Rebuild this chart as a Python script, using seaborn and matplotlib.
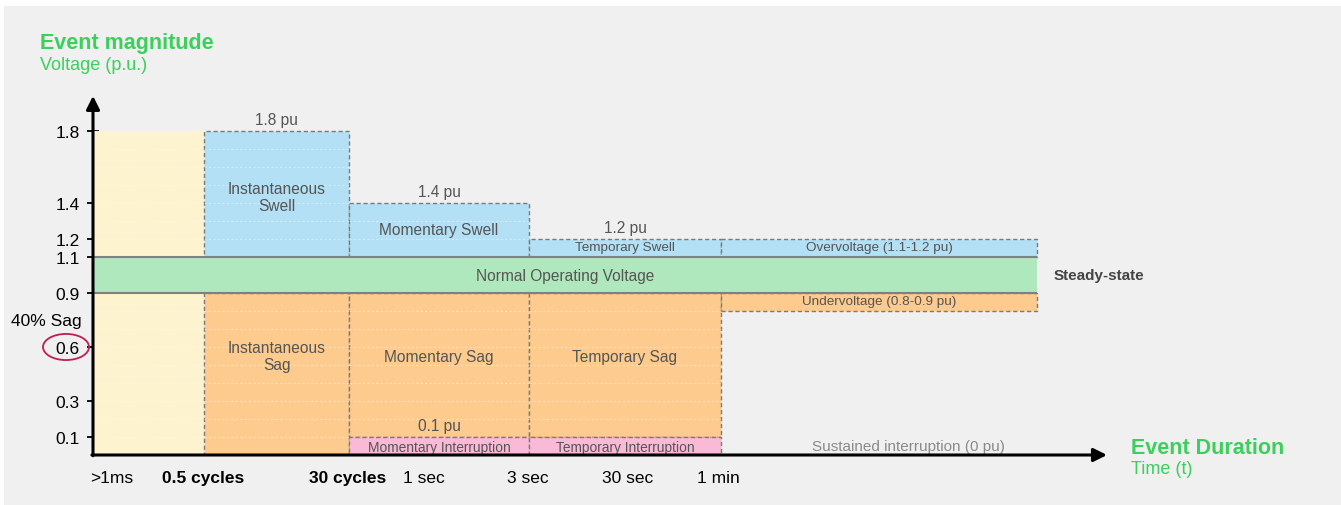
import matplotlib
matplotlib.use("Agg")
import matplotlib.pyplot as plt
from matplotlib.patches import Ellipse, Rectangle
from matplotlib import font_manager
import seaborn as sns

# ---------------- data ----------------
col_edges = [0.0, 1.11, 2.56, 4.36, 6.28, 9.44]          # duration boundaries (axis units)
swell_tops = [1.8, 1.4, 1.2, 1.2]                          # swell upper limits per column 1..4
swell_names = ["Instantaneous\nSwell", "Momentary Swell", "Temporary Swell", "Overvoltage (1.1-1.2 pu)"]
swell_top_labels = ["1.8 pu", "1.4 pu", "1.2 pu", ""]
sag_bottoms = [0.0, 0.1, 0.1, 0.8]                         # sag lower limits per column 1..4
sag_names = ["Instantaneous\nSag", "Momentary Sag", "Temporary Sag", "Undervoltage (0.8-0.9 pu)"]
interrupt_tops = [0.1, 0.1]                                # columns 2..3
interrupt_names = ["Momentary Interruption", "Temporary Interruption"]
normal_band = [0.9, 1.1]
yellow_top = 1.8

x_tick_pos = [0.19, 1.10, 2.55, 3.31, 4.35, 5.35, 6.25]
x_tick_labels = [">1ms", "0.5 cycles", "30 cycles", "1 sec", "3 sec", "30 sec", "1 min"]
x_tick_bold = [False, True, True, False, False, False, False]
y_ticks = [0.1, 0.3, 0.6, 0.9, 1.1, 1.2, 1.4, 1.8]
y_tick_labels = ["0.1", "0.3", "0.6", "0.9", "1.1", "1.2", "1.4", "1.8"]

# ---------------- style ----------------
sns.set_theme(style="white")
plt.rcParams['font.family'] = ['Liberation Sans', 'DejaVu Sans']
names = {f.name for f in font_manager.fontManager.ttflist}
has_narrow = 'Liberation Sans Narrow' in names
narrow = 'Liberation Sans Narrow' if has_narrow else 'Liberation Sans'
fs_interrupt = 11.6 if has_narrow else 9.9
fs_sustained = 12.8 if has_narrow else 11.0

YELLOW = "#fdf3cf"
BLUE = "#b3e0f5"
GREEN = "#b0e8bd"
ORANGE = "#fdcb8e"
PINK = "#fbb9d8"
BG = "#f0f0f0"
TXT = "#555555"
EDGE = "#7a7a7a"
GTXT = "#3ccf5c"
DASH = (0, (3, 2))

W, H = 1341, 506
fig = plt.figure(figsize=(W / 100, H / 100), dpi=100)
fig.patch.set_facecolor("white")
fig.patches.append(Rectangle((4 / W, 0), 1, (H - 7) / H, transform=fig.transFigure,
                             facecolor=BG, edgecolor="none", zorder=-10))

ax = fig.add_axes([93 / W, (H - 456) / H, 1030 / W, 360 / H])
ax.set_facecolor("none")
ax.set_xlim(0, 10.3)
ax.set_ylim(0, 2.0)
for s in ax.spines.values():
    s.set_visible(False)


def grid_in(x0, x1, y0, y1):
    lv = [k / 10 for k in range(1, 19)]
    ys = [v for v in lv if y0 + 1e-6 < v < y1 - 1e-6]
    if ys:
        ax.hlines(ys, x0, x1, colors="white", linestyles=(0, (2, 2)), linewidth=0.8, alpha=0.4, zorder=2)


def block(x0, x1, y0, y1, color, dashed=True):
    if dashed:
        ax.bar(x0, y1 - y0, width=x1 - x0, bottom=y0, align="edge", color=color,
               edgecolor=EDGE, linewidth=1.0, linestyle=DASH, zorder=1)
    else:
        ax.bar(x0, y1 - y0, width=x1 - x0, bottom=y0, align="edge", color=color,
               linewidth=0, zorder=1)
    grid_in(x0, x1, y0, y1)


# yellow "sub-cycle" column
block(col_edges[0], col_edges[1], 0, yellow_top, YELLOW, dashed=False)

# swells
for i in range(4):
    x0, x1 = col_edges[i + 1], col_edges[i + 2]
    block(x0, x1, normal_band[1], swell_tops[i], BLUE)
    xc = (x0 + x1) / 2
    fs = 11.2 if i < 2 else 9.7
    ax.text(xc, (normal_band[1] + swell_tops[i]) / 2 + (-0.017 if i == 0 else 0.005), swell_names[i],
            ha="center", va="center", fontsize=fs, color=TXT, linespacing=1.15, zorder=5)
    if swell_top_labels[i]:
        ax.text(xc, swell_tops[i] + 0.062, swell_top_labels[i], ha="center", va="center",
                fontsize=11.2, color=TXT, zorder=5)

# sags
sag_label_y = [0.55, 0.545, 0.545, 0.856]
for i in range(4):
    x0, x1 = col_edges[i + 1], col_edges[i + 2]
    block(x0, x1, sag_bottoms[i], normal_band[0], ORANGE)
    xc = (x0 + x1) / 2
    fs = 11.2 if i < 3 else 9.7
    ax.text(xc, sag_label_y[i], sag_names[i], ha="center", va="center", fontsize=fs,
            color=TXT, linespacing=1.15, zorder=5)

# interruptions
for i in range(2):
    x0, x1 = col_edges[i + 2], col_edges[i + 3]
    block(x0, x1, 0, interrupt_tops[i], PINK)
    ax.text((x0 + x1) / 2, 0.046, interrupt_names[i], ha="center", va="center",
            fontsize=fs_interrupt, family=narrow, color=TXT, zorder=5)
ax.text((col_edges[2] + col_edges[3]) / 2, interrupt_tops[0] + 0.062, "0.1 pu", ha="center",
        va="center", fontsize=11.2, color=TXT, zorder=5)

# normal operating band
ax.bar(col_edges[0], normal_band[1] - normal_band[0], width=col_edges[-1] - col_edges[0],
       bottom=normal_band[0], align="edge", color=GREEN, linewidth=0, zorder=3)
ax.hlines(normal_band, col_edges[0], col_edges[-1], colors="#808080", linewidth=1.5, zorder=4)
ax.text((col_edges[0] + col_edges[-1]) / 2, sum(normal_band) / 2, "Normal Operating Voltage",
        ha="center", va="center", fontsize=11.2, color=TXT, zorder=5)
ax.text(10.06, sum(normal_band) / 2, "Steady-state", ha="center", va="center",
        fontsize=11, fontweight="bold", color="#444444", clip_on=False)

ax.text(8.15, 0.052, "Sustained interruption (0 pu)", ha="center", va="center",
        fontsize=fs_sustained, family=narrow, color="#8a8a8a", zorder=5)

# axes arrows
ax.annotate("", xy=(0, 1.995), xytext=(0, -0.004), xycoords="data",
            arrowprops=dict(arrowstyle="-|>", lw=2.2, color="black", mutation_scale=20,
                            shrinkA=0, shrinkB=0), annotation_clip=False, zorder=6)
ax.annotate("", xy=(10.14, 0), xytext=(-0.011, 0), xycoords="data",
            arrowprops=dict(arrowstyle="-|>", lw=2.2, color="black", mutation_scale=20,
                            shrinkA=0, shrinkB=0), annotation_clip=False, zorder=6)

# ticks
ax.set_yticks(y_ticks)
ax.set_yticklabels(y_tick_labels, fontsize=12.5, color="black")
ax.tick_params(axis="y", direction="inout", length=9, width=1.3, color="black", pad=5, left=True)
ax.set_xticks(x_tick_pos)
ax.set_xticklabels(x_tick_labels, fontsize=12.5, color="black")
for lab, b in zip(ax.get_xticklabels(), x_tick_bold):
    if b:
        lab.set_fontweight("bold")
ax.tick_params(axis="x", length=0, pad=10.5)

ax.text(-0.11, 0.745, "40% Sag", ha="right", va="center", fontsize=12.5, color="black", clip_on=False)
ax.add_patch(Ellipse((-0.27, 0.6), 0.46, 0.145, facecolor="none", edgecolor="#c01e4e",
                     linewidth=1.3, clip_on=False, zorder=6))

# axis titles
ax.text(-0.53, 2.294, "Event magnitude", ha="left", va="center", fontsize=15.5,
        fontweight="bold", color=GTXT, clip_on=False)
ax.text(-0.53, 2.168, "Voltage (p.u.)", ha="left", va="center", fontsize=13,
        color=GTXT, clip_on=False)
ax.text(10.38, 0.04, "Event Duration", ha="left", va="center", fontsize=15.5,
        fontweight="bold", color=GTXT, clip_on=False)
ax.text(10.38, -0.077, "Time (t)", ha="left", va="center", fontsize=13,
        color=GTXT, clip_on=False)

fig.savefig("out.png", dpi=100, facecolor=fig.get_facecolor())
